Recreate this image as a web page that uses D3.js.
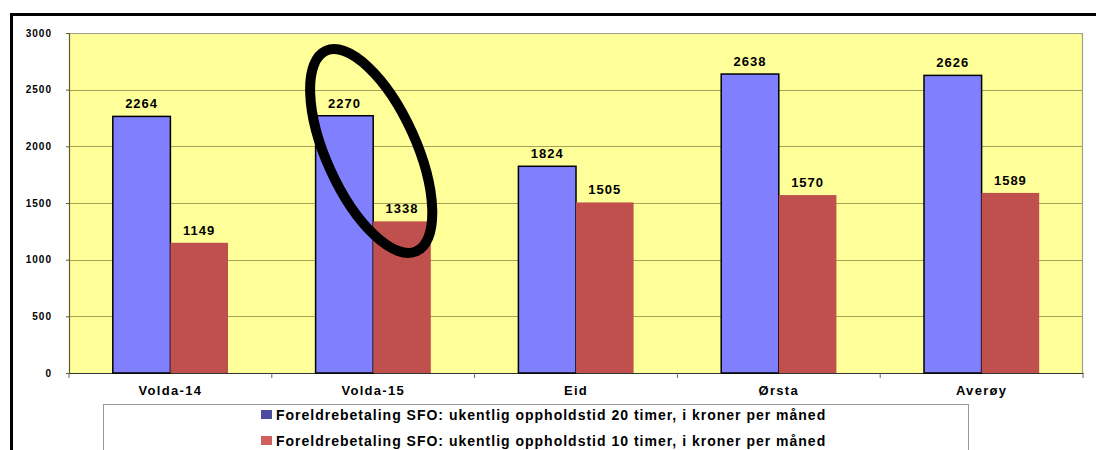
<!DOCTYPE html>
<html>
<head>
<meta charset="utf-8">
<script src="https://cdn.jsdelivr.net/npm/d3@7"></script>
<style>
  html, body { margin: 0; padding: 0; background: #fff; }
  svg { display: block; font-family: "Liberation Sans", Arial, sans-serif; }
</style>
</head>
<body>
<svg id="chart" width="1096" height="450"></svg>
<script>
// Foreldrebetaling SFO per kommune
const categories = ["Volda-14", "Volda-15", "Eid", "Ørsta", "Averøy"];
const hours20 = [2264, 2270, 1824, 2638, 2626];
const hours10 = [1149, 1338, 1505, 1570, 1589];
const yTicks = [0, 500, 1000, 1500, 2000, 2500, 3000];
const seriesNames = [
  "Foreldrebetaling SFO: ukentlig oppholdstid 20 timer, i kroner per måned",
  "Foreldrebetaling SFO: ukentlig oppholdstid 10 timer, i kroner per måned"
];

const svg = d3.select("#chart");
const plot = { left: 69, right: 1083, top: 33, bottom: 373 };

const x = d3.scaleBand().domain(categories).range([plot.left, plot.right]);
const y = d3.scaleLinear().domain([0, 3000]).range([plot.bottom, plot.top]);
const barW = x.bandwidth() * 0.284;

// outer frame
svg.append("rect")
  .attr("x", 11.5).attr("y", 14.5).attr("width", 1100).attr("height", 450)
  .attr("fill", "none").attr("stroke", "#000").attr("stroke-width", 3);

// plot background
svg.append("rect")
  .attr("x", plot.left).attr("y", plot.top)
  .attr("width", plot.right - plot.left).attr("height", plot.bottom - plot.top)
  .attr("fill", "#ffff99");

// gridlines
svg.append("g").selectAll("line").data(yTicks.filter(d => d > 0)).join("line")
  .attr("x1", plot.left).attr("x2", plot.right)
  .attr("y1", d => Math.round(y(d)) + 0.5).attr("y2", d => Math.round(y(d)) + 0.5)
  .attr("stroke", "#a8a35a").attr("stroke-width", 1);

// plot border (top / right)
svg.append("path")
  .attr("d", `M${plot.left},${plot.top + 0.5}H${plot.right - 0.5}V${plot.bottom}`)
  .attr("fill", "none").attr("stroke", "#a0a08a").attr("stroke-width", 1.2);

// y axis
const yAxis = svg.append("g")
  .attr("transform", `translate(${plot.left},0)`)
  .call(d3.axisLeft(y).tickValues(yTicks).tickFormat(d3.format("d")).tickSize(3).tickPadding(14));
yAxis.select(".domain").attr("stroke", "#5c5c30").attr("stroke-width", 1.2);
yAxis.selectAll(".tick line").attr("stroke", "#5c5c30");
yAxis.selectAll("text")
  .attr("font-size", 10).attr("font-weight", "bold").attr("fill", "#000")
  .attr("letter-spacing", 1)
  .attr("font-family", "Liberation Sans, Arial, sans-serif");

// x axis
const xAxis = svg.append("g")
  .attr("transform", `translate(0,${plot.bottom})`)
  .call(d3.axisBottom(x).tickSize(0).tickPadding(13));
xAxis.select(".domain").attr("stroke", "#333").attr("stroke-width", 1.2);
xAxis.selectAll("text")
  .attr("font-size", 13).attr("font-weight", "bold").attr("fill", "#000")
  .attr("letter-spacing", 1.3)
  .attr("font-family", "Liberation Sans, Arial, sans-serif");
// boundary ticks between categories
svg.append("g").selectAll("line")
  .data(categories.map(c => x(c)).concat([plot.right])).join("line")
  .attr("x1", d => d).attr("x2", d => d)
  .attr("y1", plot.bottom).attr("y2", plot.bottom + 5)
  .attr("stroke", "#666").attr("stroke-width", 1);

// bars
const groups = svg.append("g").selectAll("g").data(categories).join("g");
groups.append("rect")
  .attr("x", (d) => x(d) + x.bandwidth() / 2 - barW)
  .attr("y", (d, i) => y(hours20[i]))
  .attr("width", barW)
  .attr("height", (d, i) => plot.bottom - y(hours20[i]))
  .attr("fill", "#8080ff").attr("stroke", "#000").attr("stroke-width", 1.5);
groups.append("rect")
  .attr("x", (d) => x(d) + x.bandwidth() / 2)
  .attr("y", (d, i) => y(hours10[i]))
  .attr("width", barW)
  .attr("height", (d, i) => plot.bottom - y(hours10[i]))
  .attr("fill", "#c0504d");

// value labels
groups.append("text")
  .attr("x", d => x(d) + x.bandwidth() / 2 - barW / 2)
  .attr("y", (d, i) => y(hours20[i]) - 8)
  .attr("text-anchor", "middle").attr("font-size", 13).attr("font-weight", "bold")
  .attr("letter-spacing", 1)
  .text((d, i) => hours20[i]);
groups.append("text")
  .attr("x", d => x(d) + x.bandwidth() / 2 + barW / 2)
  .attr("y", (d, i) => y(hours10[i]) - 8)
  .attr("text-anchor", "middle").attr("font-size", 13).attr("font-weight", "bold")
  .attr("letter-spacing", 1)
  .text((d, i) => hours10[i]);

// highlight ring around Volda-15
const cx = x("Volda-15") + x.bandwidth() / 2 - 2;
svg.append("ellipse")
  .attr("cx", 0).attr("cy", 0).attr("rx", 45).attr("ry", 110)
  .attr("transform", `translate(${cx},151) rotate(-24.3)`)
  .attr("fill", "none").attr("stroke", "#000").attr("stroke-width", 10);

// legend
svg.append("rect")
  .attr("x", 103.5).attr("y", 404.5).attr("width", 865).attr("height", 80)
  .attr("fill", "#fff").attr("stroke", "#9a9a9a").attr("stroke-width", 1);
const legendColors = ["#4b4ba0", "#d06060"];
const leg = svg.append("g").selectAll("g").data(seriesNames).join("g")
  .attr("transform", (d, i) => `translate(261,${415 + i * 26})`);
leg.append("rect").attr("x", 0).attr("y", -5).attr("width", 11).attr("height", 9)
  .attr("fill", (d, i) => legendColors[i]);
leg.append("text").attr("x", 15).attr("y", 5)
  .attr("font-size", 14).attr("font-weight", "bold").attr("letter-spacing", 1)
  .text(d => d);
</script>
</body>
</html>
